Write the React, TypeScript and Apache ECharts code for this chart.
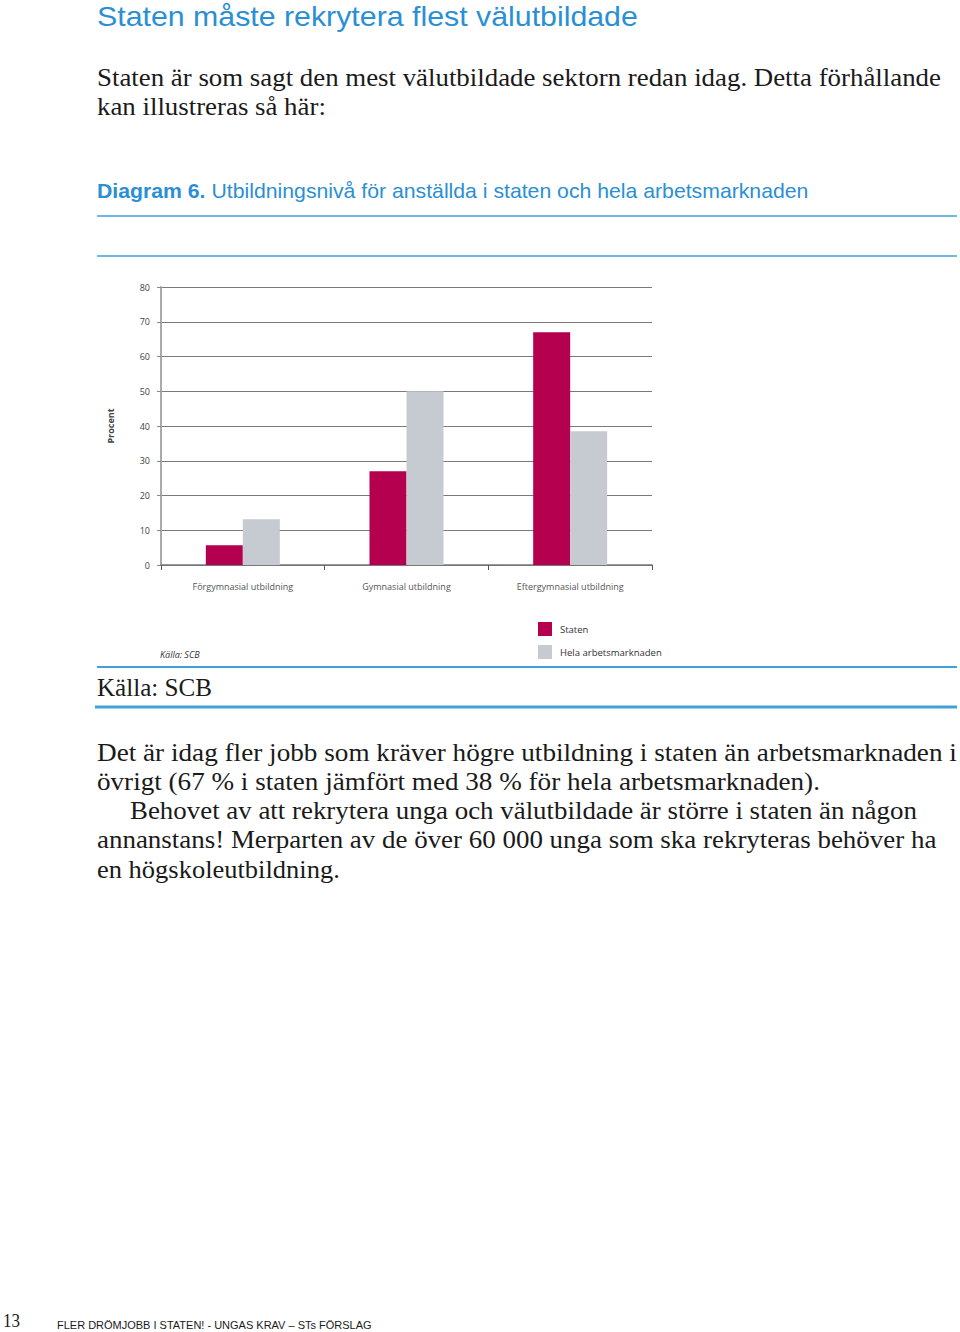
import React, { useEffect, useRef } from 'react';
import * as echarts from 'echarts';

// ---- Data ----
const categories = ['Förgymnasial utbildning', 'Gymnasial utbildning', 'Eftergymnasial utbildning'];
const seriesNames = ['Staten', 'Hela arbetsmarknaden'];
const statenValues = [5.7, 27, 67];
const helaValues = [13.2, 50, 38.5];
const yMin = 0;
const yMax = 80;
const yInterval = 10;

// ---- Page texts ----
const pageTitle = 'Staten måste rekrytera flest välutbildade';
const introLines = [
  'Staten är som sagt den mest välutbildade sektorn redan idag. Detta förhållande',
  'kan illustreras så här:',
];
const captionBold = 'Diagram 6.';
const captionRest = 'Utbildningsnivå för anställda i staten och hela arbetsmarknaden';
const chartSource = 'Källa: SCB';
const sourceLine = 'Källa: SCB';
const bodyLines = [
  'Det är idag fler jobb som kräver högre utbildning i staten än arbetsmarknaden i',
  'övrigt (67 % i staten jämfört med 38 % för hela arbetsmarknaden).',
  'Behovet av att rekrytera unga och välutbildade är större i staten än någon',
  'annanstans! Merparten av de över 60 000 unga som ska rekryteras behöver ha',
  'en högskoleutbildning.',
];
const pageNumber = '13';
const footerText = 'FLER DRÖMJOBB I STATEN! - UNGAS KRAV – STs FÖRSLAG';

const BLUE = '#2a8fd4';
const LINE_BLUE = '#3ea2d8';
const SERIF = '"Liberation Serif"';
const SANS = '"Liberation Sans"';
const CHART_FONT = '"Open Sans"';

let measureCtx: CanvasRenderingContext2D | null = null;
function measure(text: string, font: string): number {
  if (!measureCtx) measureCtx = document.createElement('canvas').getContext('2d');
  if (!measureCtx) return 0;
  measureCtx.font = font;
  return measureCtx.measureText(text).width;
}

function fitText(
  text: string,
  x: number,
  y: number,
  targetW: number,
  fontSize: number,
  family: string,
  color: string,
  weight = 'normal',
  fstyle = 'normal'
) {
  const font = `${fstyle} ${weight} ${fontSize}px ${family}`;
  const w = measure(text, font);
  const sx = w > 0 ? targetW / w : 1;
  return {
    type: 'text',
    x,
    y,
    scaleX: sx,
    silent: true,
    style: {
      text,
      x: 0,
      y: 0,
      fontSize,
      fontFamily: family,
      fontWeight: weight,
      fontStyle: fstyle,
      fill: color,
      textAlign: 'left',
      textVerticalAlign: 'middle',
    },
  };
}

function hline(x1: number, x2: number, y: number, w: number) {
  return {
    type: 'line',
    silent: true,
    shape: { x1, y1: y, x2, y2: y },
    style: { stroke: LINE_BLUE, lineWidth: w },
  };
}

export default function App() {
  const ref = useRef<HTMLDivElement>(null);

  useEffect(() => {
    if (!ref.current) return;
    const chart = echarts.init(ref.current, undefined, { renderer: 'svg' });

    const capFont = 20;
    const boldFont = `normal bold ${capFont}px ${SANS}`;
    const regFont = `normal normal ${capFont}px ${SANS}`;
    const wBold = measure(captionBold + ' ', boldFont);
    const wRest = measure(captionRest, regFont);
    const capScale = wBold + wRest > 0 ? 712 / (wBold + wRest) : 1;

    const bodyTargets = [
      { x: 97, w: 860 },
      { x: 97, w: 723 },
      { x: 130, w: 787 },
      { x: 97, w: 840 },
      { x: 97, w: 243 },
    ];
    const bodyYs = [753, 782, 811, 840, 870];

    const graphics: any[] = [
      fitText(pageTitle, 97, 16, 541, 28, SANS, BLUE),
      fitText(introLines[0], 97, 78, 844, 25, SERIF, '#1a1a1a'),
      fitText(introLines[1], 97, 107, 229, 25, SERIF, '#1a1a1a'),
      {
        type: 'text',
        x: 97,
        y: 191,
        scaleX: capScale,
        silent: true,
        style: {
          text: captionBold,
          x: 0,
          y: 0,
          fontSize: capFont,
          fontFamily: SANS,
          fontWeight: 'bold',
          fill: BLUE,
          textAlign: 'left',
          textVerticalAlign: 'middle',
        },
      },
      {
        type: 'text',
        x: 97 + wBold * capScale,
        y: 191,
        scaleX: capScale,
        silent: true,
        style: {
          text: captionRest,
          x: 0,
          y: 0,
          fontSize: capFont,
          fontFamily: SANS,
          fontWeight: 'normal',
          fill: BLUE,
          textAlign: 'left',
          textVerticalAlign: 'middle',
        },
      },
      hline(97, 957, 216, 1.5),
      hline(97, 957, 256, 1.5),
      hline(97, 957, 667, 2),
      hline(95, 957, 707, 3),
      {
        type: 'text',
        x: 160,
        y: 654,
        silent: true,
        style: {
          text: chartSource,
          fontSize: 9,
          fontFamily: CHART_FONT,
          fontStyle: 'italic',
          fill: '#333',
          textAlign: 'left',
          textVerticalAlign: 'middle',
        },
      },
      fitText(sourceLine, 97, 688, 115, 25, SERIF, '#1a1a1a'),
      ...bodyLines.map((t, i) =>
        fitText(t, bodyTargets[i].x, bodyYs[i], bodyTargets[i].w, 25, SERIF, '#1a1a1a')
      ),
      fitText(pageNumber, 3, 1321, 17, 19, SERIF, '#1a1a1a'),
      fitText(footerText, 57, 1325, 315, 10, SANS, '#1a1a1a'),
    ];

    chart.setOption({
      animation: false,
      backgroundColor: '#ffffff',
      grid: { left: 161, right: 308, top: 287, bottom: 767, containLabel: false },
      legend: {
        data: seriesNames,
        orient: 'vertical',
        left: 538,
        top: 622,
        padding: 0,
        itemWidth: 14,
        itemHeight: 14,
        itemGap: 9,
        icon: 'rect',
        selectedMode: false,
        textStyle: { fontSize: 9.5, fontFamily: CHART_FONT, color: '#333', padding: [0, 0, 0, 3] },
      },
      xAxis: {
        type: 'category',
        data: categories,
        boundaryGap: true,
        axisLine: { show: true, lineStyle: { color: '#777', width: 1.5 } },
        axisTick: { show: true, length: 5, lineStyle: { color: '#555' } },
        axisLabel: { fontSize: 9, fontFamily: CHART_FONT, color: '#555', margin: 17 },
        splitLine: { show: false },
      },
      yAxis: {
        type: 'value',
        min: yMin,
        max: yMax,
        interval: yInterval,
        name: 'Procent',
        nameLocation: 'middle',
        nameGap: 46,
        nameRotate: 90,
        nameTextStyle: { fontSize: 9, fontFamily: CHART_FONT, fontWeight: 'bold', color: '#444' },
        axisLine: { show: true, lineStyle: { color: '#aaa', width: 2 } },
        axisTick: { show: true, length: 4, lineStyle: { color: '#888' } },
        axisLabel: { fontSize: 9, fontFamily: CHART_FONT, color: '#444', margin: 11 },
        splitLine: { show: true, lineStyle: { color: '#7a7a7a', width: 1 } },
      },
      series: [
        {
          name: seriesNames[0],
          type: 'bar',
          data: statenValues,
          barWidth: 37,
          barGap: '0%',
          itemStyle: { color: '#b5004f' },
        },
        {
          name: seriesNames[1],
          type: 'bar',
          data: helaValues,
          barWidth: 37,
          barGap: '0%',
          itemStyle: { color: '#c6cad1' },
        },
      ],
      graphic: { elements: graphics },
    });

    return () => {
      chart.dispose();
    };
  }, []);

  return (
    <div
      ref={ref}
      style={{ position: 'absolute', left: 0, top: 0, width: 960, height: 1332, background: '#fff' }}
    />
  );
}
